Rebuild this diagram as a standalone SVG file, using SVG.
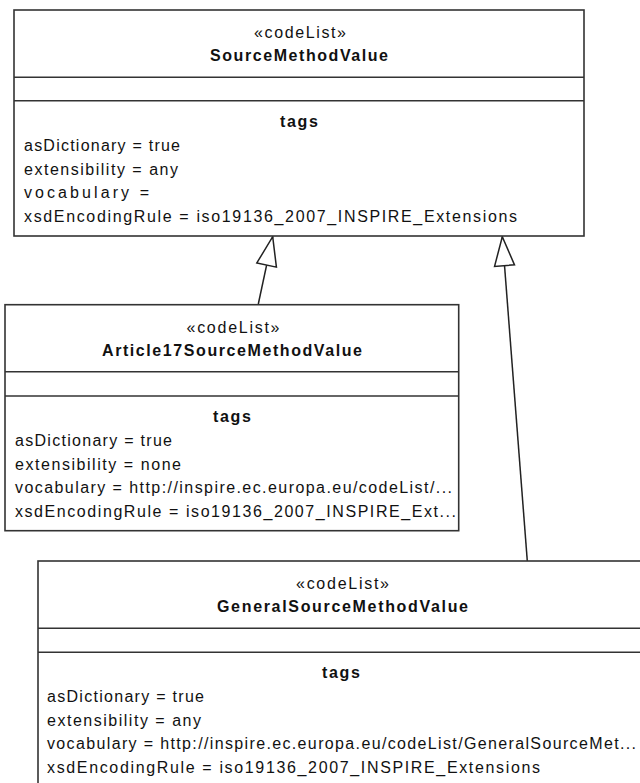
<svg xmlns="http://www.w3.org/2000/svg" width="640" height="783" viewBox="0 0 640 783">
<style>
.box{fill:#fff;stroke:#333;stroke-width:1.6}
.div{stroke:#333;stroke-width:1.6}
.t{font-family:"Liberation Sans",Arial,sans-serif;font-size:16px;fill:#111}
.b{font-weight:bold}
.c{text-anchor:middle}
.edge{fill:none;stroke:#222;stroke-width:1.5}
</style>
<defs>
<marker id="gen" markerUnits="userSpaceOnUse" markerWidth="32" markerHeight="24" refX="29" refY="12" orient="auto" overflow="visible">
<path d="M0,2 L29,12 L0,22 Z" fill="#fff" stroke="#222" stroke-width="1.5"/>
</marker>
</defs>
<rect width="640" height="783" fill="#fff"/>
<g id="connectors">
<path class="edge" d="M258.3,304 L272.7,236.7" marker-end="url(#gen)"/>
<path class="edge" d="M527.3,561 L502.3,236.7" marker-end="url(#gen)"/>
</g>
<g id="SourceMethodValue">
<rect class="box" x="14" y="10" width="570" height="226"/>
<line class="div" x1="14" y1="77.3" x2="584" y2="77.3"/>
<line class="div" x1="14" y1="100.7" x2="584" y2="100.7"/>
<text class="t c" x="300" y="38" textLength="92" lengthAdjust="spacing">«codeList»</text>
<text class="t b c" x="299" y="61" textLength="178" lengthAdjust="spacing">SourceMethodValue</text>
<text class="t b c" x="299" y="127" textLength="38" lengthAdjust="spacing">tags</text>
<text class="t" x="24" y="151" textLength="156" lengthAdjust="spacing">asDictionary = true</text>
<text class="t" x="24" y="174.5" textLength="154" lengthAdjust="spacing">extensibility = any</text>
<text class="t" x="24" y="198" textLength="125" lengthAdjust="spacing">vocabulary =</text>
<text class="t" x="24" y="222" textLength="493" lengthAdjust="spacing">xsdEncodingRule = iso19136_2007_INSPIRE_Extensions</text>
</g>
<g id="Article17SourceMethodValue">
<rect class="box" x="5" y="304.7" width="453.7" height="226"/>
<line class="div" x1="5" y1="371.7" x2="458.7" y2="371.7"/>
<line class="div" x1="5" y1="396" x2="458.7" y2="396"/>
<text class="t c" x="233" y="332.5" textLength="93" lengthAdjust="spacing">«codeList»</text>
<text class="t b c" x="232" y="355.5" textLength="260" lengthAdjust="spacing">Article17SourceMethodValue</text>
<text class="t b c" x="232" y="421.5" textLength="38" lengthAdjust="spacing">tags</text>
<text class="t" x="15" y="446" textLength="157" lengthAdjust="spacing">asDictionary = true</text>
<text class="t" x="15" y="469.5" textLength="166" lengthAdjust="spacing">extensibility = none</text>
<text class="t" x="15" y="493" textLength="437" lengthAdjust="spacing">vocabulary = http://inspire.ec.europa.eu/codeList/...</text>
<text class="t" x="15" y="517" textLength="441" lengthAdjust="spacing">xsdEncodingRule = iso19136_2007_INSPIRE_Ext...</text>
</g>
<g id="GeneralSourceMethodValue">
<rect class="box" x="38" y="561" width="608" height="240"/>
<line class="div" x1="38" y1="628.3" x2="646" y2="628.3"/>
<line class="div" x1="38" y1="652.3" x2="646" y2="652.3"/>
<text class="t c" x="342.5" y="589" textLength="93" lengthAdjust="spacing">«codeList»</text>
<text class="t b c" x="342.5" y="612" textLength="251" lengthAdjust="spacing">GeneralSourceMethodValue</text>
<text class="t b c" x="341" y="678" textLength="38" lengthAdjust="spacing">tags</text>
<text class="t" x="47" y="702" textLength="157" lengthAdjust="spacing">asDictionary = true</text>
<text class="t" x="47" y="725.5" textLength="154" lengthAdjust="spacing">extensibility = any</text>
<text class="t" x="47" y="749" textLength="589" lengthAdjust="spacing">vocabulary = http://inspire.ec.europa.eu/codeList/GeneralSourceMet...</text>
<text class="t" x="47" y="772.5" textLength="493" lengthAdjust="spacing">xsdEncodingRule = iso19136_2007_INSPIRE_Extensions</text>
</g>
</svg>
